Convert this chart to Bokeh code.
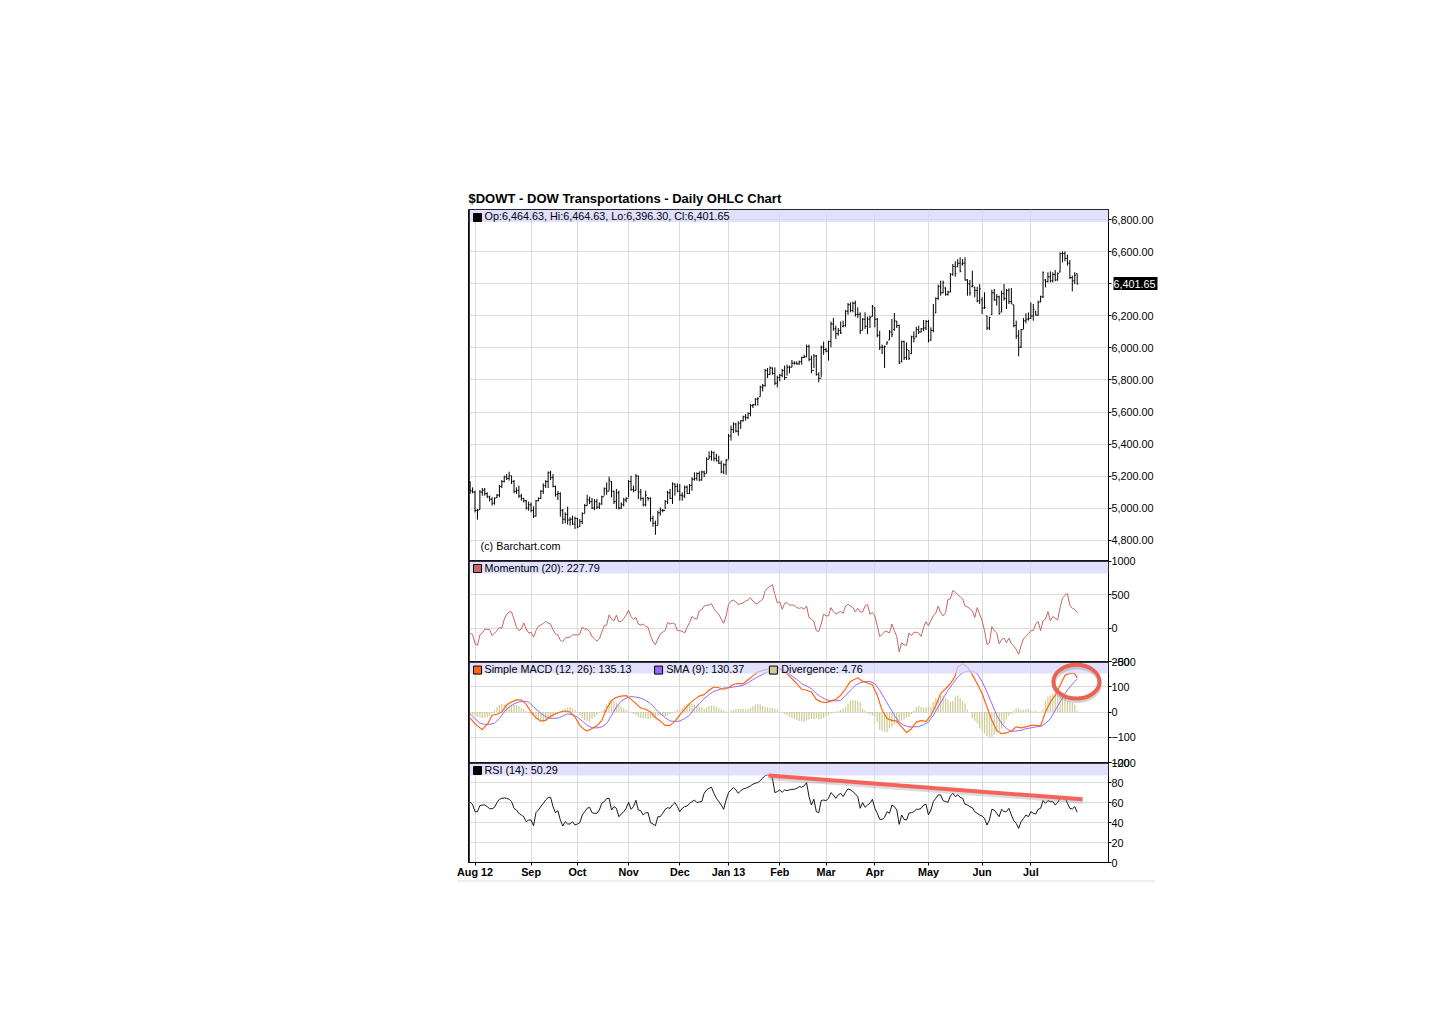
from bokeh.embed import file_html
from bokeh.resources import INLINE
from bokeh.plotting import figure
from bokeh.layouts import column
from bokeh.models import (BoxAnnotation, Div, FixedTicker, Grid, Label, LinearAxis, NumeralTickFormatter,
                          Range1d, Span, Title)

FONT = "Liberation Sans"
first_bar = -2

opens = [5160,5105,5100,4985,4990,5100,5115,5090,5070,5055,
5030,5065,5080,5135,5165,5195,5185,5200,5165,5105,
5110,5075,5060,5045,5000,5020,4985,4950,5045,5060,
5105,5140,5165,5220,5190,5135,5085,5090,4985,4930,
4960,4925,4930,4900,4935,4885,4915,4965,5015,5050,
5040,5000,5040,5005,5025,5070,5120,5105,5165,5105,
5040,5095,5000,5020,5050,5060,5165,5115,5110,5200,
5100,5060,5020,5065,5060,4935,4905,4890,4970,4985,
4985,5040,5095,5060,5150,5135,5105,5080,5075,5130,
5090,5140,5180,5185,5215,5175,5225,5215,5305,5320,
5345,5310,5295,5280,5225,5270,5300,
5450,5490,5525,5480,5530,5545,5570,5565,5590,5640,5645,5680,5696,5755,5765,5860,
5835,5875,5840,5780,5815,5830,5860,5815,5880,5880,5905,5905,5900,5915,5940,5945,
6010,5930,5860,5950,5835,5810,6005,5990,5980,6040,
6150,6120,6090,6110,6135,6140,6230,6270,6235,6280,
6210,6210,6110,6180,6135,6180,6196,6250,6180,6080,
6005,6005,6025,6050,6100,6115,6165,6140,5915,6040,
5940,5985,5965,6070,6070,6115,6100,6120,6125,6165,
6050,6110,6220,6310,6385,6345,6375,6335,6350,6460,
6510,6510,6530,6525,6530,6425,6400,6385,6380,6360,
6295,6300,6250,6200,6125,6210,6345,6300,6320,6225,
6340,6310,6360,6290,6270,6140,6075,6005,6115,6170,
6180,6185,6200,6225,6205,6290,6320,6425,6415,6445,
6420,6460,6425,6475,6590,6590,6560,6530,6440,6420,6464.63]

highs = [5167,5129,5108,4994,5112,5125,5125,5098,5077,5067,
5067,5088,5144,5175,5202,5212,5227,5202,5175,5129,
5140,5088,5063,5050,5040,5035,5010,5050,5067,5112,
5154,5175,5229,5233,5212,5140,5108,5098,4994,4973,
5008,4942,4952,4946,4938,4931,4973,5025,5083,5071,
5063,5056,5056,5035,5077,5129,5160,5196,5167,5108,
5119,5108,5035,5063,5067,5175,5202,5140,5212,5202,
5119,5067,5108,5067,5067,4952,4921,4983,5004,4994,
5050,5108,5119,5160,5154,5154,5150,5098,5140,5140,
5150,5192,5223,5223,5229,5233,5233,5317,5354,5358,
5354,5338,5327,5296,5279,5306,5462,
5515,5535,5531,5542,5550,5577,5587,5598,5650,5650,5687,5692,5765,5775,5869,5875,
5885,5879,5879,5827,5837,5869,5890,5896,5890,5925,5917,5917,5921,5946,5958,6021,
6021,5952,5962,5956,5848,6015,6040,6000,6046,6165,
6187,6140,6125,6165,6171,6237,6281,6285,6290,6296,
6254,6223,6187,6223,6196,6202,6269,6254,6187,6108,
6021,6015,6042,6112,6181,6219,6171,6146,6046,6046,
6035,5987,6077,6104,6133,6140,6125,6175,6175,6175,
6129,6275,6317,6396,6421,6421,6379,6358,6469,6525,
6542,6556,6567,6556,6567,6431,6425,6483,6383,6383,
6400,6317,6348,6202,6196,6365,6369,6337,6327,6358,
6400,6369,6373,6375,6271,6171,6112,6119,6187,6217,
6223,6285,6275,6233,6296,6327,6479,6431,6473,6479,
6473,6487,6473,6598,6604,6604,6583,6550,6452,6473,6464.63]

lows = [5088,5092,4973,4927,4990,5077,5077,5063,5040,5015,
5021,5063,5067,5125,5160,5175,5171,5150,5092,5088,
5063,5046,5035,4990,4983,4973,4938,4946,5042,5056,
5088,5125,5125,5175,5129,5071,5050,4946,4900,4904,
4896,4890,4894,4869,4873,4883,4900,4967,5015,5025,
4994,4987,4994,4994,5021,5077,5083,5108,5067,5025,
4994,4990,4994,5010,5035,5067,5108,5098,5108,5056,
5046,5010,5010,5046,4915,4883,4833,4894,4952,4973,
4994,5025,5056,5025,5077,5098,5046,5046,5063,5088,
5088,5108,5171,5171,5167,5171,5192,5217,5306,5296,
5292,5292,5275,5217,5212,5208,5306,
5421,5469,5473,5452,5494,5540,5546,5556,5573,5625,5640,5640,5696,5729,5758,5812,
5833,5833,5769,5754,5792,5817,5800,5827,5842,5879,5896,5896,5896,5896,5937,5942,
5917,5842,5875,5827,5785,5817,5958,5973,5921,6004,
6108,6056,6077,6087,6129,6133,6208,6223,6223,6196,
6187,6087,6112,6119,6087,6125,6196,6129,6067,5987,
5962,5875,6021,6050,6067,6108,6125,5900,5910,5925,
5925,5925,5962,6035,6067,6087,6098,6104,6112,6035,
6046,6098,6217,6300,6327,6342,6327,6327,6348,6452,
6446,6504,6473,6515,6421,6327,6327,6379,6317,6285,
6275,6212,6244,6112,6112,6208,6296,6265,6208,6223,
6296,6244,6275,6275,6129,6056,5948,6000,6119,6154,
6171,6181,6171,6202,6202,6285,6312,6379,6410,6410,
6410,6417,6421,6473,6535,6542,6515,6431,6354,6400,6396.30]

closes = [5110,5100,4985,4985,5100,5110,5090,5070,5055,5030,
5060,5080,5135,5165,5195,5185,5205,5165,5105,5110,
5075,5060,5045,5000,5020,4985,4950,5045,5060,5105,
5140,5165,5220,5190,5135,5085,5090,4985,4930,4960,
4925,4930,4900,4935,4880,4915,4965,5015,5050,5040,
5000,5040,5005,5025,5070,5120,5105,5175,5105,5040,
5095,5000,5020,5050,5060,5165,5115,5110,5200,5100,
5060,5020,5080,5060,4935,4905,4890,4970,4985,4985,
5040,5095,5060,5150,5135,5105,5080,5075,5130,5090,
5140,5180,5185,5215,5175,5225,5215,5305,5320,5345,
5310,5295,5280,5225,5270,5300,5450,
5490,5525,5480,5530,5545,5570,5565,5590,5640,5645,5680,5685,5755,5765,5860,5835,
5875,5840,5780,5815,5830,5860,5815,5880,5880,5905,5905,5900,5915,5940,5945,6010,
5930,5860,5950,5835,5810,6005,5990,5980,6040,6150,
6120,6090,6110,6095,6140,6230,6270,6235,6280,6210,
6210,6110,6180,6135,6180,6190,6260,6180,6080,6005,
6005,6010,6035,6100,6085,6170,6140,5905,6040,5940,
5990,5935,6070,6060,6115,6100,6120,6125,6165,6045,
6110,6205,6310,6385,6345,6410,6335,6350,6460,6510,
6465,6530,6480,6530,6425,6400,6345,6390,6360,6295,
6370,6250,6255,6125,6190,6345,6300,6320,6215,6340,
6310,6360,6290,6275,6140,6075,6005,6115,6170,6180,
6185,6200,6240,6205,6285,6320,6470,6415,6445,6420,
6460,6425,6465,6590,6590,6560,6530,6440,6420,6455,6401.65]

momentum = [-78,-98,-235,-260,-103,-74,-15,-20,-25,-113,-78,-39,10,-5,132,206,240,240,132,10,-39,-15,74,-15,-74,-64,-137,-39,25,44,
69,98,74,59,-25,-88,-103,-186,-201,-152,-142,-137,-103,-103,-103,-88,15,-15,-15,-54,-127,-162,-196,-162,-64,34,44,196,132,108,
191,93,98,142,191,265,167,132,157,59,44,59,25,10,-113,-201,-250,-162,-88,-64,-39,83,59,74,59,-39,-39,-49,-74,10,
83,172,142,132,255,279,328,338,343,363,289,240,206,132,69,181,353,402,417,392,353,363,377,402,417,451,402,368,363,402,
426,549,598,622,647,500,377,392,279,368,377,343,343,338,304,294,304,279,328,
157,132,93,-39,-54,59,206,181,181,304,245,206,230,245,221,328,353,328,304,240,294,240,240,328,353,206,230,181,34,-127,
-98,-54,-54,-74,59,-39,-127,-358,-221,-250,-260,-74,-113,-64,-64,-78,-127,10,93,34,108,181,221,328,230,181,230,426,436,559,
534,500,466,436,328,314,289,255,157,304,206,108,-39,-245,-221,20,-39,-74,-235,-172,-152,-221,-152,-235,-270,-319,-392,-260,-162,-123,
-88,-39,-39,59,98,-39,108,132,245,108,172,142,122,304,451,485,515,338,294,279,228]

rsi = [60.2,58.2,50.8,50.8,56.9,57.5,57.5,55.9,53.8,53.8,55.2,59.9,63.2,64.2,64.5,64.2,63.2,60.9,54.2,52.5,49.2,47.5,45.8,40.8,42.5,42.5,36.8,49.8,52.5,55.9,
59.2,62.5,64.9,65.2,55.9,49.8,51.8,42.5,36.5,40.8,38.5,38.5,40.8,37.5,38.5,39.8,47.5,50.8,54.2,55.2,49.8,49.2,49.2,52.5,59.2,60.9,63.9,64.2,52.5,55.9,
54.2,45.8,48.5,50.8,54.2,60.2,53.2,55.9,62.2,52.5,51.8,47.5,49.8,49.8,39.8,38.5,36.8,45.8,45.8,49.2,53.2,54.8,54.2,57.5,59.9,55.9,50.8,54.2,55.9,56.5,
59.2,60.9,62.5,59.9,60.5,60.9,69.2,72.6,74.2,75.3,69.2,64.2,60.9,57.5,53.2,62.5,69.9,72.6,74.9,72.6,69.2,71.9,73.6,74.2,75.3,76.6,78.3,79.3,79.9,81.9,
84.3,87,87.6,87,84.3,69.9,70.9,72.6,70.2,72.6,71.9,72.6,73.2,73.2,74.2,75.9,75.3,76.6,
79.9,65.9,57.5,63.2,50.8,49.8,61.9,62.5,61.9,64.2,69.9,67.6,64.2,67.6,69.2,65.9,70.2,73.6,72.6,70.9,68.6,65.9,54.2,59.9,55.2,57.5,59.2,63.2,54.2,49.2,
43.1,43.1,45.2,50.8,49.2,57.5,55.9,52.5,38.1,47.5,43.1,42.5,49.2,49.8,50.8,53.2,53.2,54.2,57.5,58.2,47.5,52.5,60.9,64.2,67.6,67.6,61.9,60.9,60.2,66.6,
69.2,65.9,67.6,65.2,64.2,58.2,57.5,55.9,54.8,50.8,49.2,47.5,46.5,44.1,37.5,42.5,53.2,52.5,49.2,45.8,53.2,50.8,50.8,54.2,47.5,41.8,39.1,34.1,40.8,44.1,
47.5,45.8,50.8,49.2,48.5,53.2,54.2,61.9,59.2,61.9,60.9,60.9,57.5,59.9,64.2,64.2,65.2,59.2,54.2,53.5,55.9,50.29]

macd_bars = [-2,0,1,3,4,5,6,7,9,11,13,15,17,19,21,23,25,27,29,31,33,35,37,39,41,43,45,46,48,50,52,54,56,58,60,62,64,66,68,70,72,74,76,78,80,82,84,86,88,90,92,94,96,98,100,102,104,106,108,110,112,114,116,118,120,122,124,126,128,130,132,134,136,138,
140,142,144,146,148,150,152,154,157,159,161,163,165,167,169,171,173,175,177,179,181,183,185,187,189,191,193,195,197,198,200,202,204,206,208,210,212,214,216,218,220,222,224,226,228,230,232,234,236,238,240,242,244,246,247]
macd = [-24,-46,-55,-70,-59,-50,-33,-13,-9,0,29,40,48,48,30,0,-24,-36,-33,-17,-7,0,4,0,-20,-53,-71,-75,-65,-55,-33,13,46,58,63,65,50,33,16,11,0,-22,-36,-53,-53,-37,-11,11,33,50,63,69,86,99,96,90,96,110,112,112,128,143,158,165,169,174,174,165,152,132,112,90,86,79,
50,40,37,44,50,66,92,121,136,121,115,108,66,7,-26,-33,-36,-59,-82,-66,-40,-34,-37,-13,26,73,92,112,143,178,191,178,148,112,73,20,-33,-73,-86,-83,-75,-59,-63,-59,-53,-53,-55,0,40,66,106,145,154,152,135.13]

signal_bars = list(range(-2, 138, 2)) + list(range(138, 248, 2)) + [247]
signal = [-7,-26,-44,-49,-49,-44,-26,0,20,32,40,42,40,20,3,-13,-24,-25,-24,-16,-7,-11,-20,-36,-53,-62,-63,-59,-46,-13,20,44,55,61,59,55,46,33,13,-7,-22,-36,-37,-36,-26,-13,13,33,53,69,82,88,95,96,99,102,106,116,128,139,149,158,172,178,169,158,143,129,112,103,
92,73,59,49,44,44,46,66,86,106,116,121,121,112,86,53,20,-13,-40,-53,-59,-59,-58,-50,-40,-13,20,53,86,112,139,156,162,162,152,121,79,33,-13,-46,-66,-77,-75,-73,-66,-63,-59,-57,-46,-26,7,40,73,99,121,130.37]

divergence = [-6,-10,-14,-18,-22,-24,-24,-20,-14,-4,8,20,30,32,30,28,30,30,30,28,24,16,12,4,-4,-10,-16,-24,-30,-36,
-40,-36,-28,-26,-20,-12,-4,4,10,14,18,20,14,8,-2,-14,-24,-32,-36,-38,-28,-20,-12,-4,4,12,30,40,46,44,
38,30,22,14,8,4,-2,-8,-12,-20,-24,-26,-26,-28,-26,-24,-20,-16,-12,-16,-18,-14,-8,-4,2,8,12,18,26,32,
36,34,30,24,20,16,14,18,24,26,26,22,16,10,6,2,2,6,10,12,12,12,12,10,12,16,24,30,32,30,
24,20,18,16,16,14,10,2,-2,-8,-14,-20,-24,-28,-32,-36,-38,-40,-34,-30,
-28,-28,-26,-30,-28,-24,-16,-12,-6,-2,2,4,8,14,20,34,46,48,46,44,40,14,6,-6,-10,-14,-18,-40,-70,-74,
-78,-80,-65,-60,-50,-46,-38,-34,-30,-24,-20,-8,5,20,25,20,18,18,22,22,40,55,55,65,65,55,50,40,45,60,
65,55,45,35,10,0,-25,-35,-45,-65,-75,-85,-95,-100,-100,-90,-80,-75,-65,-50,-30,-15,-8,5,15,15,10,8,12,12,
5,3,5,0,2,10,45,60,65,70,70,70,65,60,55,45,42,38,30,4.76]

month_bars = [0, 23, 42, 63, 84, 104, 125, 144, 164, 186, 208, 228]
month_labels = ["Aug 12", "Sep", "Oct", "Nov", "Dec", "Jan 13", "Feb", "Mar", "Apr", "May", "Jun", "Jul"]
price_ticks = [4800, 5000, 5200, 5400, 5600, 5800, 6000, 6200, 6400, 6600, 6800]
last_close = 6401.65
momentum_ticks = [-500, 0, 500, 1000]
macd_ticks = [-200, -100, 0, 100, 200]
rsi_ticks = [0, 20, 40, 60, 80, 100]

bars = list(range(first_bar, first_bar + 250))
X_RANGE = (-2.67, 259.85)
GRID = "#dcdcdc"
BAND_COLOR = "#d4d4ff"


def panel(y_range, ticks, height, top=10, bottom=10, margin_top=-20, number_format=None):
    p = figure(width=1228, height=height, x_range=Range1d(*X_RANGE), y_range=Range1d(*y_range),
               output_backend="svg", toolbar_location=None, x_axis_location=None, y_axis_location=None,
               min_border_left=468, min_border_right=120, min_border_top=top, min_border_bottom=bottom,
               border_fill_color=None, background_fill_color="white", outline_line_color="black",
               outline_line_width=1, margin=(margin_top, 0, 0, 0))
    p.center = []
    axis = LinearAxis(ticker=FixedTicker(ticks=ticks), major_tick_in=0, major_tick_out=3,
                      major_label_standoff=0, minor_tick_line_color=None, axis_line_color="black",
                      major_tick_line_color="black", major_label_text_font=FONT,
                      major_label_text_font_size="10.8px", major_label_text_color="black")
    if number_format:
        axis.formatter = NumeralTickFormatter(format=number_format)
    p.add_layout(axis, "right")
    p.add_layout(Grid(dimension=0, ticker=FixedTicker(ticks=month_bars), grid_line_color=GRID, grid_line_width=1))
    p.add_layout(Grid(dimension=1, ticker=FixedTicker(ticks=ticks), grid_line_color=GRID, grid_line_width=1))
    return p, axis


def finish(p, y_range, band_bottom, heavy_top=True):
    p.add_layout(BoxAnnotation(bottom=band_bottom, top=y_range[1], fill_color=BAND_COLOR, fill_alpha=0.7,
                               line_color=None, level="annotation"))
    p.add_layout(Span(location=X_RANGE[0], dimension="height", line_color="black", line_width=2.5))
    if heavy_top:
        p.add_layout(Span(location=y_range[1], dimension="width", line_color="black", line_width=2.5))


def legend(p, bar, y, color, text, text_bar, text_y):
    p.scatter([bar], [y], marker="square", size=8, fill_color=color, line_color="black", line_width=1, level="overlay")
    p.add_layout(Label(x=text_bar, y=text_y, text=text, text_font=FONT, text_font_size="10.8px", text_color="black",
                       text_baseline="middle", level="overlay"))


# ---------- price ----------
price_range = (4671.9, 6865.6)
p1, price_axis = panel(price_range, price_ticks, 209 + 351 + 10, top=209, margin_top=0, number_format="0,0.00")
price_axis.major_label_overrides = {6400: ""}
tag_axis = LinearAxis(ticker=FixedTicker(ticks=[last_close]),
                      formatter=NumeralTickFormatter(format="0,0.00"), axis_line_color=None,
                      major_tick_line_color="black", major_tick_line_width=13, major_tick_in=43, major_tick_out=1,
                      minor_tick_line_color=None, major_label_standoff=-44, major_label_text_font=FONT,
                      major_label_text_font_size="10.8px", major_label_text_color="white")
p1.add_layout(tag_axis, "right")
p1.add_layout(Title(text="$DOWT - DOW Transportations - Daily OHLC Chart", text_font=FONT, text_font_size="13px",
                    text_font_style="bold", text_color="black", align="left", standoff=8), "above")
p1.segment(bars, lows, bars, highs, line_color="black", line_width=1)
p1.segment([b - 0.45 for b in bars], opens, bars, opens, line_color="black", line_width=1)
p1.segment(bars, closes, [b + 0.45 for b in bars], closes, line_color="black", line_width=1)
finish(p1, price_range, 6787.5, heavy_top=False)
legend(p1, 1.03, 6815.6, "black", "Op:6,464.63, Hi:6,464.63, Lo:6,396.30, Cl:6,401.65", 3.9, 6822)
p1.add_layout(Label(x=2.3, y=4762, text="(c) Barchart.com", text_font=FONT, text_font_size="10.8px",
                    text_color="black", text_baseline="middle"))

# ---------- momentum ----------
mom_range = (-500, 1007.5)
p2, _ = panel(mom_range, momentum_ticks, 10 + 101 + 10)
p2.line(bars, momentum, line_color="#c86464", line_width=1)
finish(p2, mom_range, 813)
legend(p2, 1.03, 888, "#cc6666", "Momentum (20): 227.79", 3.9, 903)

# ---------- MACD ----------
macd_range = (-200, 200)
p3, _ = panel(macd_range, macd_ticks, 10 + 101 + 10)
p3.segment(bars, [0] * len(bars), bars, divergence, line_color="#cbcb94", line_width=1.2)
p3.line(signal_bars, signal, line_color="#9966ff", line_width=1)
p3.line(macd_bars, macd, line_color="#ff6611", line_width=1.2)
finish(p3, macd_range, 152)
legend(p3, 1.03, 166, "#ff6611", "Simple MACD (12, 26): 135.13", 3.9, 170)
legend(p3, 75.3, 166, "#9966ff", "SMA (9): 130.37", 78.4, 170)
legend(p3, 122.4, 166, "#cccc99", "Divergence: 4.76", 125.6, 170)
ring_x, ring_y, ring_w, ring_h = [246.7], [120], [18.9], [134]
p3.ellipse([246.9], [110], ring_w, ring_h, fill_color=None, line_color="#888888", line_alpha=0.35, line_width=4, level="overlay")
p3.ellipse(ring_x, ring_y, ring_w, ring_h, fill_color=None, line_color="#ea6352", line_width=4, level="overlay")

# ---------- RSI ----------
rsi_range = (0, 100)
p4, _ = panel(rsi_range, rsi_ticks, 10 + 100 + 30, bottom=30)
p4.line(bars, rsi, line_color="black", line_width=0.9)
finish(p4, rsi_range, 87)
legend(p4, 1.03, 92, "black", "RSI (14): 50.29", 3.9, 93)
trend_x, trend_y = [120.4, 249.2], [87, 63.2]
p4.line(trend_x, [v - 2.5 for v in trend_y], line_color="#888888", line_alpha=0.3, line_width=4, level="overlay")
p4.line(trend_x, trend_y, line_color="#f4645a", line_width=4, level="overlay")
x_axis = LinearAxis(ticker=FixedTicker(ticks=month_bars),
                    major_label_overrides={b: t for b, t in zip(month_bars, month_labels)},
                    major_tick_in=0, major_tick_out=3, major_label_standoff=0, minor_tick_line_color=None,
                    axis_line_color="black", major_tick_line_color="black", major_label_text_font=FONT,
                    major_label_text_font_size="10.8px", major_label_text_font_style="bold",
                    major_label_text_color="black")
p4.add_layout(x_axis, "below")

strip = Div(text="", width=698, height=4, margin=(-12, 0, 0, 457),
            styles={"background": "linear-gradient(#ececec,#ffffff)"})

page = column(p1, p2, p3, p4, strip, spacing=0)
open("out.html", "w").write(file_html(page, INLINE))
